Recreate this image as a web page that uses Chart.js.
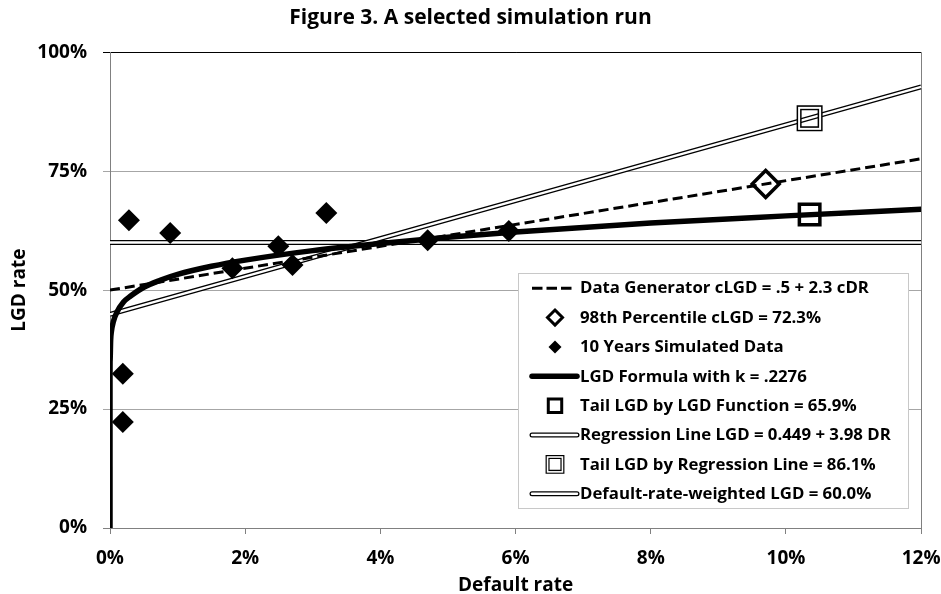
<!DOCTYPE html>
<html>
<head>
<meta charset="utf-8">
<title>Figure 3. A selected simulation run</title>
<script src="https://cdn.jsdelivr.net/npm/chart.js@4.4.1/dist/chart.umd.min.js"></script>
<style>
  html, body { margin: 0; padding: 0; background: #ffffff; }
  #wrap { width: 941px; height: 594px; }
</style>
</head>
<body>
<div id="wrap"><canvas id="chart" width="941" height="594"></canvas></div>
<script>
// ---- data ----
const seriesNames = [
  'Data Generator cLGD = .5 + 2.3 cDR',
  '98th Percentile cLGD = 72.3%',
  '10 Years Simulated Data',
  'LGD Formula with k = .2276',
  'Tail LGD by LGD Function = 65.9%',
  'Regression Line LGD = 0.449 + 3.98 DR',
  'Tail LGD by Regression Line = 86.1%',
  'Default-rate-weighted LGD = 60.0%'
];

const xTicks = [0, 0.02, 0.04, 0.06, 0.08, 0.10, 0.12];
const yTicks = [0, 0.25, 0.50, 0.75, 1.00];

// data generator line
const genDR  = [0, 0.12];
const genLGD = [0.500, 0.776];

// 98th percentile point on the generator line
const pctDR  = [0.097];
const pctLGD = [0.723];

// ten simulated years
const simDR  = [0.0028, 0.0019, 0.0019, 0.0089, 0.0181, 0.0249, 0.0270, 0.0320, 0.0470, 0.0590];
const simLGD = [0.647, 0.324, 0.223, 0.620, 0.546, 0.592, 0.553, 0.662, 0.605, 0.624];

// LGD function curve (k = .2276)
const curveDR  = [0, 0.000001, 0.00001, 0.0001, 0.0002, 0.0005, 0.001, 0.002, 0.003, 0.005, 0.0075,
                  0.01, 0.015, 0.02, 0.03, 0.04, 0.05, 0.06, 0.08, 0.10, 0.12];
const curveLGD = [0, 0.318, 0.350, 0.396, 0.412, 0.434, 0.453, 0.475, 0.487, 0.506, 0.521,
                  0.533, 0.550, 0.563, 0.583, 0.598, 0.611, 0.622, 0.641, 0.656, 0.670];

// tail LGD read from the LGD function
const tailFnDR  = [0.1035];
const tailFnLGD = [0.659];

// regression line
const regDR  = [0, 0.12];
const regLGD = [0.449, 0.927];

// tail LGD
const tailRegDR  = [0.1035];
const tailRegLGD = [0.861];

// default-rate-weighted average LGD
const wtdDR  = [0, 0.12];
const wtdLGD = [0.600, 0.600];

// ---- chart ----
const FONT = "'Open Sans', 'DejaVu Sans', sans-serif";
const pts = (xs, ys) => xs.map((x, i) => ({ x: x, y: ys[i] }));
const pct = v => Math.round(v * 100) + '%';

const datasets = [
  { label: seriesNames[0], data: pts(genDR, genLGD), showLine: true, order: 3,
    borderColor: '#000', borderWidth: 3, borderDash: [10, 5], pointRadius: 0,
    legendDash: [10.5, 4] },
  { label: seriesNames[1], data: pts(pctDR, pctLGD), showLine: false, order: 1,
    pointStyle: 'rectRot', pointRadius: 13.5, pointBorderWidth: 3.5,
    pointBorderColor: '#000', pointBackgroundColor: 'rgba(0,0,0,0)', legendRadius: 7.5 },
  { label: seriesNames[2], data: pts(simDR, simLGD), showLine: false, order: 0,
    pointStyle: 'rectRot', pointRadius: 11, pointBorderWidth: 0,
    pointBorderColor: '#000', pointBackgroundColor: '#000', legendRadius: 6.5, legendFill: true },
  { label: seriesNames[3], data: pts(curveDR, curveLGD), showLine: true, order: 2,
    borderColor: '#000', borderWidth: 5.5, pointRadius: 0, cubicInterpolationMode: 'monotone' },
  { label: seriesNames[4], data: pts(tailFnDR, tailFnLGD), showLine: false, order: 1,
    pointStyle: 'rect', pointRadius: 14.5, pointBorderWidth: 3.5,
    pointBorderColor: '#000', pointBackgroundColor: 'rgba(0,0,0,0)', legendRadius: 9.5 },
  { label: seriesNames[5], data: pts(regDR, regLGD), showLine: true, order: 4,
    borderColor: '#000', borderWidth: 5, pointRadius: 0, innerStroke: 2.4 },
  { label: seriesNames[6], data: pts(tailRegDR, tailRegLGD), showLine: false, order: 1,
    pointStyle: 'rect', pointRadius: 14.85, pointBorderWidth: 5,
    pointBorderColor: '#000', pointBackgroundColor: 'rgba(0,0,0,0)', innerStroke: 2, legendRadius: 10.5 },
  { label: seriesNames[7], data: pts(wtdDR, wtdLGD), showLine: true, order: 5,
    borderColor: '#000', borderWidth: 5, pointRadius: 0, innerStroke: 2.4 }
];

// white centre stroke that turns a thick black stroke into a double line
const doubleStroke = {
  id: 'doubleStroke',
  afterDatasetDraw(chart, args) {
    const ds = chart.data.datasets[args.index];
    if (!ds.innerStroke) return;
    const ctx = chart.ctx;
    const pts = args.meta.data;
    ctx.save();
    ctx.strokeStyle = '#ffffff';
    ctx.lineWidth = ds.innerStroke;
    if (ds.showLine) {
      ctx.beginPath();
      pts.forEach((p, i) => i ? ctx.lineTo(p.x, p.y) : ctx.moveTo(p.x, p.y));
      ctx.stroke();
    } else {
      const h = ds.pointRadius * Math.SQRT1_2;
      pts.forEach(p => ctx.strokeRect(p.x - h, p.y - h, 2 * h, 2 * h));
    }
    ctx.restore();
  }
};

// right edge of the plot frame
const frame = {
  id: 'frame',
  beforeDatasetsDraw(chart) {
    const { ctx, chartArea: a } = chart;
    ctx.save();
    ctx.strokeStyle = '#808080';
    ctx.lineWidth = 1;
    ctx.beginPath();
    ctx.moveTo(Math.round(a.right) + 0.5, a.top);
    ctx.lineTo(Math.round(a.right) + 0.5, a.bottom);
    ctx.stroke();
    ctx.restore();
  }
};

// boxed legend inside the plot area
const boxLegend = {
  id: 'boxLegend',
  afterDatasetsDraw(chart) {
    const ctx = chart.ctx;
    const box = { x: 518.5, y: 273.5, w: 390, h: 235 };
    const rowH = box.h / datasets.length;
    ctx.save();
    ctx.fillStyle = '#ffffff';
    ctx.fillRect(box.x, box.y, box.w, box.h);
    ctx.strokeStyle = '#c8c8c8';
    ctx.lineWidth = 1;
    ctx.strokeRect(box.x, box.y, box.w, box.h);

    const x0 = 532, x1 = 577, xm = 555, tx = 580;
    datasets.forEach((ds, i) => {
      const cy = box.y + rowH * (i + 0.5);
      ctx.save();
      ctx.strokeStyle = '#000';
      ctx.fillStyle = '#000';
      if (ds.showLine) {
        ctx.lineCap = ds.legendDash ? 'butt' : 'round';
        ctx.setLineDash(ds.legendDash || []);
        ctx.lineWidth = ds.borderWidth;
        ctx.beginPath();
        ctx.moveTo(x0, cy);
        ctx.lineTo(ds.legendDash ? 572 : x1, cy);
        ctx.stroke();
        if (ds.innerStroke) {
          ctx.strokeStyle = '#fff';
          ctx.lineWidth = ds.innerStroke;
          ctx.beginPath();
          ctx.moveTo(x0, cy);
          ctx.lineTo(x1, cy);
          ctx.stroke();
        }
      } else {
        const r = ds.legendRadius;
        ctx.beginPath();
        if (ds.pointStyle === 'rectRot') {
          ctx.moveTo(xm, cy - r); ctx.lineTo(xm + r, cy);
          ctx.lineTo(xm, cy + r); ctx.lineTo(xm - r, cy);
          ctx.closePath();
        } else {
          const h = r * Math.SQRT1_2;
          ctx.rect(xm - h, cy - h, 2 * h, 2 * h);
        }
        if (ds.legendFill) {
          ctx.fill();
        } else {
          ctx.lineWidth = ds.innerStroke ? 4 : 3;
          ctx.stroke();
          if (ds.innerStroke) {
            const h = r * Math.SQRT1_2;
            ctx.strokeStyle = '#fff';
            ctx.lineWidth = 1.6;
            ctx.strokeRect(xm - h, cy - h, 2 * h, 2 * h);
          }
        }
      }
      ctx.restore();
      ctx.fillStyle = '#000';
      ctx.font = "bold 16.8px " + FONT;
      ctx.textAlign = 'left';
      ctx.textBaseline = 'middle';
      ctx.fillText(ds.label, tx, cy + 0.5);
    });
    ctx.restore();
  }
};

new Chart(document.getElementById('chart'), {
  type: 'scatter',
  data: { datasets: datasets },
  plugins: [doubleStroke, frame, boxLegend],
  options: {
    responsive: false,
    animation: false,
    devicePixelRatio: 1,
    events: [],
    layout: { padding: 0 },
    plugins: {
      legend: { display: false },
      tooltip: { enabled: false },
      title: {
        display: true,
        text: 'Figure 3. A selected simulation run',
        color: '#000',
        font: { family: FONT, size: 21, weight: 'bold', lineHeight: 1.2 },
        padding: { top: 5, bottom: 22 }
      }
    },
    scales: {
      x: {
        type: 'linear',
        min: 0, max: 0.12,
        afterBuildTicks: s => { s.ticks = xTicks.map(v => ({ value: v })); },
        afterFit: s => { s.height = 66; s.paddingLeft = 0; s.paddingRight = 19.5; },
        grid: { drawOnChartArea: false, drawTicks: true, tickLength: 6, color: '#808080' },
        border: { display: true, color: '#808080', width: 1 },
        ticks: {
          callback: v => pct(v),
          color: '#000', padding: 13, maxRotation: 0, autoSkip: false,
          font: { family: FONT, size: 19, weight: 'bold' }
        },
        title: {
          display: true, text: 'Default rate', color: '#000',
          font: { family: FONT, size: 19, weight: 'bold', lineHeight: 0.9 },
          padding: { top: 0, bottom: 0 }
        }
      },
      y: {
        type: 'linear',
        min: 0, max: 1,
        afterBuildTicks: s => { s.ticks = yTicks.map(v => ({ value: v })); },
        afterFit: s => { s.width = 110; },
        grid: {
          drawOnChartArea: true, drawTicks: true, tickLength: 7,
          color: c => (c.tick && c.tick.value === 1) ? '#000000' : (c.tick && c.tick.value === 0 ? '#808080' : '#a6a6a6')
        },
        border: { display: true, color: '#808080', width: 1 },
        ticks: {
          callback: v => pct(v),
          color: '#000', padding: 16,
          font: { family: FONT, size: 19, weight: 'bold' }
        },
        title: {
          display: true, text: 'LGD rate', color: '#000',
          font: { family: FONT, size: 19, weight: 'bold', lineHeight: 1 },
          padding: { top: 10.5, bottom: 0 }
        }
      }
    }
  }
});
</script>
</body>
</html>
